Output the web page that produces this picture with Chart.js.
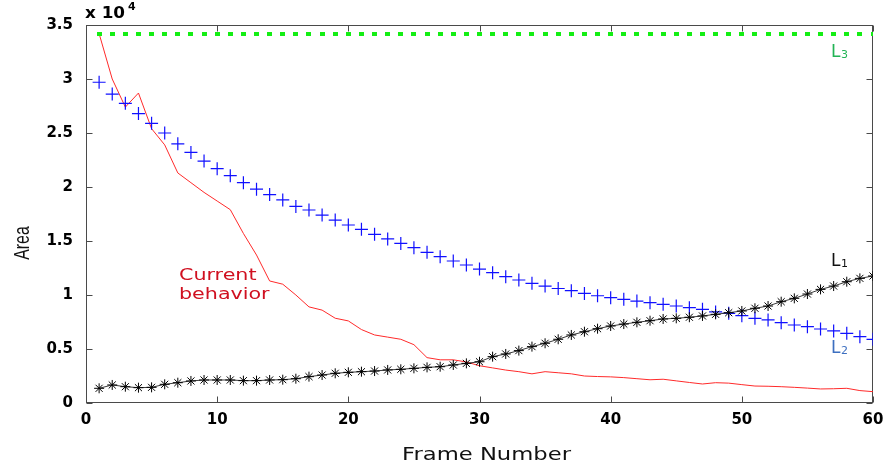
<!DOCTYPE html>
<html>
<head>
<meta charset="utf-8">
<script src="https://cdn.jsdelivr.net/npm/chart.js@4.4.1/dist/chart.umd.min.js"></script>
<style>
  html, body { margin: 0; padding: 0; background: #fff; }
</style>
</head>
<body>
<canvas id="areaChart" width="888" height="471"></canvas>
<script>
// frame numbers 1..60
const frames = Array.from({ length: 60 }, (_, i) => i + 1);

// red line, "Current behavior"
const currentBehavior = [
  34200, 30000, 27400, 28700, 25400, 23900, 21300, 20400, 19500, 18700,
  17900, 15700, 13700, 11300, 11000, 10000, 8900, 8600, 7850, 7600,
  6800, 6300, 6100, 5900, 5400, 4200, 4000, 4000, 3800, 3450,
  3250, 3050, 2900, 2700, 2900, 2800, 2700, 2500, 2450, 2420,
  2350, 2250, 2150, 2200, 2050, 1900, 1760, 1880, 1840, 1700,
  1570, 1550, 1510, 1450, 1380, 1300, 1320, 1360, 1150, 1050
];

// blue plus markers, L2
const l2Values = [
  29700, 28600, 27750, 26800, 25900, 25000, 24000, 23200, 22400, 21700,
  21050, 20400, 19800, 19300, 18800, 18200, 17870, 17400, 16940, 16480,
  16080, 15620, 15190, 14780, 14380, 13950, 13550, 13150, 12780, 12400,
  12070, 11700, 11390, 11080, 10830, 10600, 10400, 10150, 9930, 9750,
  9600, 9440, 9290, 9140, 8980, 8830, 8670, 8430, 8300, 8090,
  7840, 7690, 7440, 7220, 7070, 6850, 6670, 6450, 6140, 5900
];

// black asterisks, L1
const l1Values = [
  1360, 1670, 1510, 1420, 1450, 1730, 1880, 2040, 2130, 2130,
  2130, 2070, 2070, 2130, 2160, 2250, 2440, 2590, 2750, 2840,
  2900, 2960, 3060, 3120, 3210, 3300, 3360, 3520, 3670, 3820,
  4290, 4540, 4850, 5220, 5530, 5900, 6300, 6600, 6880, 7130,
  7310, 7470, 7620, 7780, 7840, 7940, 8060, 8210, 8360, 8520,
  8770, 8980, 9380, 9690, 10090, 10520, 10830, 11230, 11540, 11760
];

// green dotted level, L3
const l3Values = [
  34200, 34200, 34200, 34200, 34200, 34200, 34200, 34200, 34200, 34200,
  34200, 34200, 34200, 34200, 34200, 34200, 34200, 34200, 34200, 34200,
  34200, 34200, 34200, 34200, 34200, 34200, 34200, 34200, 34200, 34200,
  34200, 34200, 34200, 34200, 34200, 34200, 34200, 34200, 34200, 34200,
  34200, 34200, 34200, 34200, 34200, 34200, 34200, 34200, 34200, 34200,
  34200, 34200, 34200, 34200, 34200, 34200, 34200, 34200, 34200, 34200
];

const xTickValues = [0, 10, 20, 30, 40, 50, 60];
const yTickValues = [0, 5000, 10000, 15000, 20000, 25000, 30000, 35000];
const yTickLabels = ['0', '0.5', '1', '1.5', '2', '2.5', '3', '3.5'];

// text labels placed in data coordinates
const seriesLabels = [
  { text: 'L', sub: '1', x: 56.8, y: 12690, color: '#111111' },
  { text: 'L', sub: '2', x: 56.8, y: 4600, color: '#3d6fc0' },
  { text: 'L', sub: '3', x: 56.8, y: 32000, color: '#22b455' }
];
const noteLines = ['Current', 'behavior'];
const noteX = 7.09;
const noteY = [11390, 9630];

const toPoints = (vals) => vals.map((v, i) => ({ x: frames[i], y: v }));

// small green dash used as marker for the L3 level
const greenDot = document.createElement('canvas');
greenDot.width = 5;
greenDot.height = 4;
const gctx = greenDot.getContext('2d');
gctx.fillStyle = '#14ee14';
gctx.fillRect(0, 0, 5, 4);

function wideText(ctx, text, x, y, font, color, sx, align) {
  ctx.save();
  ctx.font = font;
  ctx.fillStyle = color;
  ctx.textBaseline = 'alphabetic';
  ctx.translate(x, y);
  ctx.scale(sx, 1);
  const w = ctx.measureText(text).width;
  const dx = align === 'center' ? -w / 2 : 0;
  ctx.fillText(text, dx, 0);
  ctx.restore();
}

const framePlugin = {
  id: 'framePlugin',
  beforeDatasetsDraw(chart) {
    const { ctx, chartArea: a, scales } = chart;
    ctx.save();
    ctx.strokeStyle = '#4a4a4a';
    ctx.lineWidth = 1;
    const L = Math.round(a.left) + 0.5, R = Math.round(a.right) - 0.5;
    const T = Math.round(a.top) + 0.5, B = Math.round(a.bottom) - 0.5;
    ctx.strokeRect(L, T, R - L, B - T);
    ctx.beginPath();
    xTickValues.forEach(v => {
      const px = Math.round(scales.x.getPixelForValue(v)) + 0.5;
      ctx.moveTo(px, B); ctx.lineTo(px, B - 6);
      ctx.moveTo(px, T); ctx.lineTo(px, T + 6);
    });
    yTickValues.forEach(v => {
      const py = Math.round(scales.y.getPixelForValue(v)) + 0.5;
      ctx.moveTo(L, py); ctx.lineTo(L + 6, py);
      ctx.moveTo(R, py); ctx.lineTo(R - 6, py);
    });
    ctx.stroke();
    ctx.restore();
  },
  afterDraw(chart) {
    const { ctx, chartArea: a, scales } = chart;

    // exponent note
    wideText(ctx, 'x 10', a.left - 1, 18, 'bold 15px "DejaVu Sans"', '#000', 1.12);
    wideText(ctx, '4', a.left + 42, 10, 'bold 10px "DejaVu Sans"', '#000', 1.1);

    // axis titles
    wideText(ctx, 'Frame Number', (a.left + a.right) / 2 + 7, 460, '18px "DejaVu Sans"', '#111', 1.26, 'center');
    ctx.save();
    ctx.translate(29, (a.top + a.bottom) / 2 + 29);
    ctx.rotate(-Math.PI / 2);
    wideText(ctx, 'Area', 0, 0, '22px "Liberation Sans"', '#111', 0.72, 'center');
    ctx.restore();

    // annotation
    noteLines.forEach((t, i) => {
      wideText(ctx, t, scales.x.getPixelForValue(noteX), scales.y.getPixelForValue(noteY[i]),
        '16px "DejaVu Sans"', '#d01020', 1.29);
    });

    // series labels
    seriesLabels.forEach(l => {
      const px = scales.x.getPixelForValue(l.x);
      const py = scales.y.getPixelForValue(l.y);
      wideText(ctx, l.text, px, py, '17px "DejaVu Sans"', l.color, 1);
      wideText(ctx, l.sub, px + 10, py + 1, '11px "DejaVu Sans"', l.color, 1);
    });
  }
};

const ctx = document.getElementById('areaChart').getContext('2d');
new Chart(ctx, {
  type: 'scatter',
  data: {
    datasets: [
      {
        label: 'L3',
        data: toPoints(l3Values),
        showLine: false,
        pointStyle: greenDot,
        pointRadius: 3
      },
      {
        label: 'L1',
        data: toPoints(l1Values),
        showLine: true,
        borderColor: '#3a3a3a',
        borderWidth: 1,
        pointStyle: 'star',
        pointRadius: 5,
        pointBorderColor: '#000',
        pointBorderWidth: 1,
        pointBackgroundColor: '#000'
      },
      {
        label: 'L2',
        data: toPoints(l2Values),
        showLine: false,
        pointStyle: 'cross',
        pointRadius: 6.5,
        pointBorderColor: '#1010ff',
        pointBorderWidth: 1.2
      },
      {
        label: 'Current behavior',
        data: toPoints(currentBehavior),
        showLine: true,
        borderColor: '#ff2a2a',
        borderWidth: 1,
        pointRadius: 0,
        tension: 0
      }
    ]
  },
  options: {
    responsive: false,
    animation: false,
    devicePixelRatio: 1,
    layout: { padding: { top: 25, right: 15, left: 0, bottom: 0 } },
    plugins: {
      legend: { display: false },
      tooltip: { enabled: false }
    },
    scales: {
      x: {
        type: 'linear',
        min: 0,
        max: 60,
        afterFit: (s) => { s.height = 68; s.paddingLeft = 0; s.paddingRight = 0; },
        grid: { display: false, drawTicks: false },
        border: { display: false },
        ticks: {
          stepSize: 10,
          autoSkip: false,
          maxRotation: 0,
          padding: 8,
          color: '#000',
          font: { family: 'DejaVu Sans', size: 15, weight: 'bold' }
        }
      },
      y: {
        type: 'linear',
        min: 0,
        max: 35000,
        afterFit: (s) => { s.width = 86; s.paddingTop = 0; s.paddingBottom = 0; },
        grid: { display: false, drawTicks: false },
        border: { display: false },
        ticks: {
          stepSize: 5000,
          autoSkip: false,
          padding: 13,
          color: '#000',
          font: { family: 'DejaVu Sans', size: 15, weight: 'bold' },
          callback: (v) => yTickLabels[yTickValues.indexOf(v)]
        }
      }
    }
  },
  plugins: [framePlugin]
});
</script>
</body>
</html>
